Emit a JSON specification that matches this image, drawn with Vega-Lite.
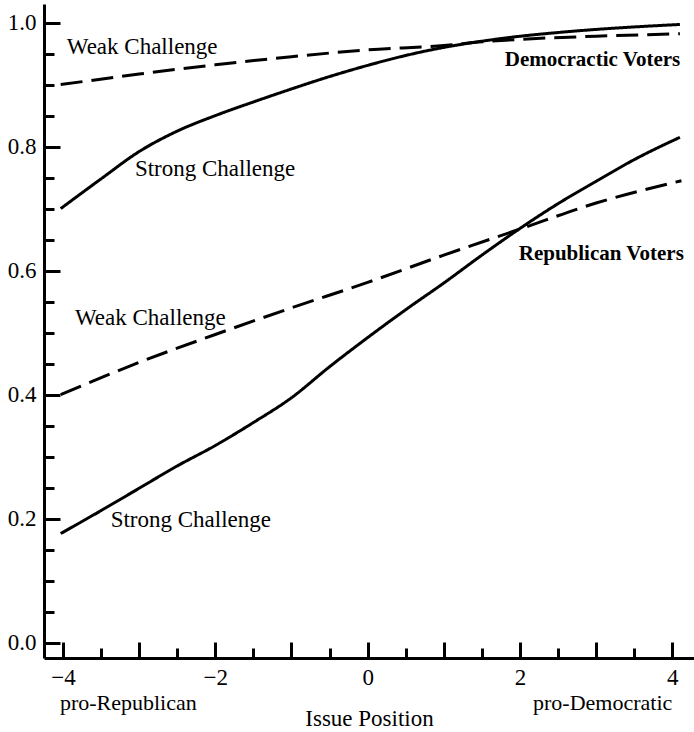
{
  "$schema": "https://vega.github.io/schema/vega-lite/v6.json",
  "width": 650,
  "height": 654,
  "autosize": {"type": "none"},
  "padding": {"left": 44, "top": 4, "right": 0, "bottom": 74},
  "background": "white",
  "config": {
    "font": "Liberation Serif",
    "view": {"stroke": null},
    "axis": {
      "domainColor": "black",
      "domainWidth": 3,
      "tickColor": "black",
      "tickWidth": 3,
      "labelColor": "black",
      "labelFont": "Liberation Serif",
      "labelFontSize": 23,
      "titleFont": "Liberation Serif",
      "titleFontSize": 23,
      "titleFontWeight": "normal",
      "titleColor": "black",
      "grid": false,
      "labelFlush": false,
      "labelOverlap": false
    }
  },
  "resolve": {"axis": {"y": "independent"}},
  "layer": [
    {
      "data": {
        "values": [
          {"series": "Dem Strong", "challenge": "Strong", "x": -4.03, "y": 0.700},
          {"series": "Dem Strong", "challenge": "Strong", "x": -3.5, "y": 0.748},
          {"series": "Dem Strong", "challenge": "Strong", "x": -3.0, "y": 0.792},
          {"series": "Dem Strong", "challenge": "Strong", "x": -2.5, "y": 0.825},
          {"series": "Dem Strong", "challenge": "Strong", "x": -2.0, "y": 0.850},
          {"series": "Dem Strong", "challenge": "Strong", "x": -1.5, "y": 0.872},
          {"series": "Dem Strong", "challenge": "Strong", "x": -1.0, "y": 0.893},
          {"series": "Dem Strong", "challenge": "Strong", "x": -0.5, "y": 0.913},
          {"series": "Dem Strong", "challenge": "Strong", "x": 0.0, "y": 0.931},
          {"series": "Dem Strong", "challenge": "Strong", "x": 0.5, "y": 0.947},
          {"series": "Dem Strong", "challenge": "Strong", "x": 1.0, "y": 0.960},
          {"series": "Dem Strong", "challenge": "Strong", "x": 1.5, "y": 0.970},
          {"series": "Dem Strong", "challenge": "Strong", "x": 2.0, "y": 0.978},
          {"series": "Dem Strong", "challenge": "Strong", "x": 2.5, "y": 0.984},
          {"series": "Dem Strong", "challenge": "Strong", "x": 3.0, "y": 0.989},
          {"series": "Dem Strong", "challenge": "Strong", "x": 3.5, "y": 0.993},
          {"series": "Dem Strong", "challenge": "Strong", "x": 4.1, "y": 0.997},
          {"series": "Dem Weak", "challenge": "Weak", "x": -4.03, "y": 0.900},
          {"series": "Dem Weak", "challenge": "Weak", "x": -3.0, "y": 0.917},
          {"series": "Dem Weak", "challenge": "Weak", "x": -2.0, "y": 0.932},
          {"series": "Dem Weak", "challenge": "Weak", "x": -1.0, "y": 0.945},
          {"series": "Dem Weak", "challenge": "Weak", "x": 0.0, "y": 0.956},
          {"series": "Dem Weak", "challenge": "Weak", "x": 1.0, "y": 0.963},
          {"series": "Dem Weak", "challenge": "Weak", "x": 1.5, "y": 0.969},
          {"series": "Dem Weak", "challenge": "Weak", "x": 2.0, "y": 0.973},
          {"series": "Dem Weak", "challenge": "Weak", "x": 3.0, "y": 0.978},
          {"series": "Dem Weak", "challenge": "Weak", "x": 4.1, "y": 0.982},
          {"series": "Rep Strong", "challenge": "Strong", "x": -4.03, "y": 0.176},
          {"series": "Rep Strong", "challenge": "Strong", "x": -3.5, "y": 0.213},
          {"series": "Rep Strong", "challenge": "Strong", "x": -3.0, "y": 0.249},
          {"series": "Rep Strong", "challenge": "Strong", "x": -2.5, "y": 0.285},
          {"series": "Rep Strong", "challenge": "Strong", "x": -2.0, "y": 0.318},
          {"series": "Rep Strong", "challenge": "Strong", "x": -1.5, "y": 0.355},
          {"series": "Rep Strong", "challenge": "Strong", "x": -1.0, "y": 0.395},
          {"series": "Rep Strong", "challenge": "Strong", "x": -0.5, "y": 0.445},
          {"series": "Rep Strong", "challenge": "Strong", "x": 0.0, "y": 0.492},
          {"series": "Rep Strong", "challenge": "Strong", "x": 0.5, "y": 0.537},
          {"series": "Rep Strong", "challenge": "Strong", "x": 1.0, "y": 0.580},
          {"series": "Rep Strong", "challenge": "Strong", "x": 1.5, "y": 0.625},
          {"series": "Rep Strong", "challenge": "Strong", "x": 2.0, "y": 0.668},
          {"series": "Rep Strong", "challenge": "Strong", "x": 2.5, "y": 0.708},
          {"series": "Rep Strong", "challenge": "Strong", "x": 3.0, "y": 0.744},
          {"series": "Rep Strong", "challenge": "Strong", "x": 3.5, "y": 0.779},
          {"series": "Rep Strong", "challenge": "Strong", "x": 4.1, "y": 0.815},
          {"series": "Rep Weak", "challenge": "Weak", "x": -4.03, "y": 0.400},
          {"series": "Rep Weak", "challenge": "Weak", "x": -3.0, "y": 0.452},
          {"series": "Rep Weak", "challenge": "Weak", "x": -2.0, "y": 0.497},
          {"series": "Rep Weak", "challenge": "Weak", "x": -1.0, "y": 0.540},
          {"series": "Rep Weak", "challenge": "Weak", "x": 0.0, "y": 0.581},
          {"series": "Rep Weak", "challenge": "Weak", "x": 1.0, "y": 0.625},
          {"series": "Rep Weak", "challenge": "Weak", "x": 2.0, "y": 0.667},
          {"series": "Rep Weak", "challenge": "Weak", "x": 3.0, "y": 0.709},
          {"series": "Rep Weak", "challenge": "Weak", "x": 4.12, "y": 0.745}
        ]
      },
      "mark": {"type": "line", "interpolate": "monotone", "strokeWidth": 3, "color": "black", "clip": false},
      "encoding": {
        "x": {
          "field": "x",
          "type": "quantitative",
          "scale": {"domain": [-4.249, 4.285], "nice": false, "zero": false},
          "axis": {
            "values": [-4, -3.5, -3, -2.5, -2, -1.5, -1, -0.5, 0, 0.5, 1, 1.5, 2, 2.5, 3, 3.5, 4],
            "tickCount": 100,
            "tickSize": {"condition": {"test": "datum.value % 1 === 0", "value": -16}, "value": -10},
            "labelExpr": "datum.value % 2 === 0 ? format(datum.value, 'd') : ''",
            "labelPadding": 24,
            "title": "Issue Position",
            "titlePadding": 12
          }
        },
        "y": {
          "field": "y",
          "type": "quantitative",
          "scale": {"domain": [-0.0247, 1.030], "nice": false, "zero": false},
          "axis": {
            "orient": "left",
            "values": [0, 0.2, 0.4, 0.6, 0.8, 1.0],
            "tickCount": 100,
            "format": ".1f",
            "ticks": false,
            "labelPadding": 8,
            "title": null
          }
        },
        "detail": {"field": "series"},
        "strokeDash": {
          "field": "challenge",
          "type": "nominal",
          "scale": {"domain": ["Strong", "Weak"], "range": [[1, 0], [22, 9]]},
          "legend": null
        }
      }
    },
    {
      "mark": {"type": "rule", "color": "black", "strokeWidth": 2.5},
      "encoding": {
        "y": {
          "datum": 1.030,
          "axis": {
            "orient": "left",
            "offset": -16,
            "values": [0, 0.2, 0.4, 0.6, 0.8, 1.0],
            "tickCount": 100,
            "tickSize": 16,
            "labels": false,
            "domain": false,
            "title": null
          }
        }
      }
    },
    {
      "data": {
        "values": [
          {"label": "Weak Challenge", "x": -3.95, "y": 0.950},
          {"label": "Strong Challenge", "x": -3.055, "y": 0.752},
          {"label": "Weak Challenge", "x": -3.843, "y": 0.512},
          {"label": "Strong Challenge", "x": -3.374, "y": 0.187}
        ]
      },
      "mark": {"type": "text", "align": "left", "baseline": "alphabetic", "fontSize": 23, "font": "Liberation Serif", "color": "black"},
      "encoding": {
        "x": {"field": "x", "type": "quantitative"},
        "y": {
          "field": "y",
          "type": "quantitative",
          "axis": {
            "orient": "left",
            "offset": -10,
            "values": [0.05, 0.1, 0.15, 0.25, 0.3, 0.35, 0.45, 0.5, 0.55, 0.65, 0.7, 0.75, 0.85, 0.9, 0.95],
            "tickCount": 100,
            "tickSize": 10,
            "labels": false,
            "domain": false,
            "title": null
          }
        },
        "text": {"field": "label"}
      }
    },
    {
      "data": {
        "values": [
          {"label": "Democractic Voters", "x": 1.80, "y": 0.930},
          {"label": "Republican Voters", "x": 1.984, "y": 0.617}
        ]
      },
      "mark": {"type": "text", "align": "left", "baseline": "alphabetic", "fontSize": 21, "fontWeight": "bold", "font": "Liberation Serif", "color": "black"},
      "encoding": {
        "x": {"field": "x", "type": "quantitative"},
        "y": {"field": "y", "type": "quantitative", "axis": null},
        "text": {"field": "label"}
      }
    },
    {
      "data": {"values": [{"label": "pro-Republican", "x": -4.04, "y": -0.1085}]},
      "mark": {"type": "text", "align": "left", "baseline": "alphabetic", "fontSize": 22, "font": "Liberation Serif", "color": "black", "clip": false},
      "encoding": {
        "x": {"field": "x", "type": "quantitative"},
        "y": {"field": "y", "type": "quantitative", "axis": null},
        "text": {"field": "label"}
      }
    },
    {
      "data": {"values": [{"label": "pro-Democratic", "x": 4.0, "y": -0.1085}]},
      "mark": {"type": "text", "align": "right", "baseline": "alphabetic", "fontSize": 22, "font": "Liberation Serif", "color": "black", "clip": false},
      "encoding": {
        "x": {"field": "x", "type": "quantitative"},
        "y": {"field": "y", "type": "quantitative", "axis": null},
        "text": {"field": "label"}
      }
    }
  ]
}
